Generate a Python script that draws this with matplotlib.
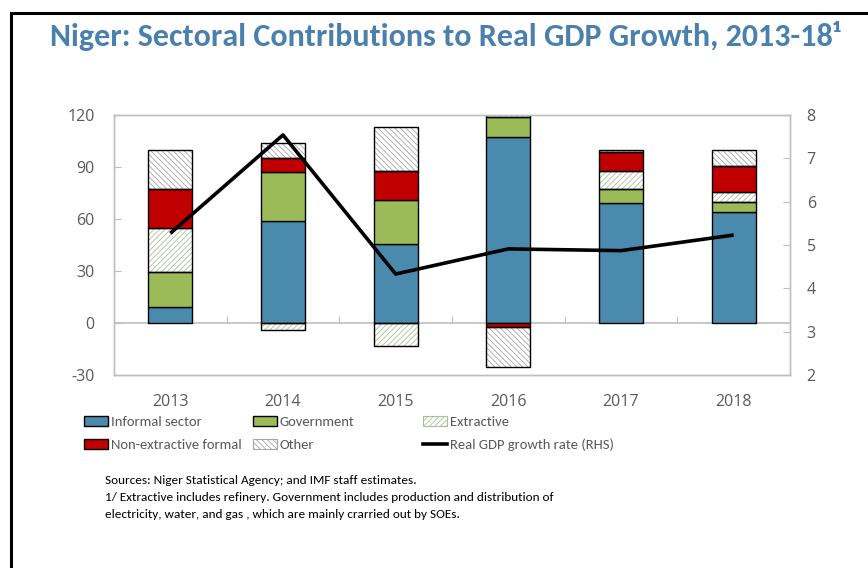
import matplotlib
matplotlib.use('Agg')
import matplotlib.pyplot as plt
import numpy as np
from matplotlib.patches import Patch, Rectangle
from matplotlib.lines import Line2D

# Contributions to growth (left axis) and real GDP growth rate (right axis)
years = ['2013', '2014', '2015', '2016', '2017', '2018']
informal = [9.2, 58.9, 45.5, 107.1, 69.1, 63.9]
government = [20.2, 28.1, 25.5, 11.9, 8.4, 6.1]
extractive = [25.3, -3.9, -13.5, 3.0, 10.4, 5.8]
non_extractive = [22.8, 8.4, 16.9, -2.5, 10.6, 15.0]
other = [22.3, 8.3, 25.4, -22.8, 1.3, 9.0]
gdp_growth = [5.27, 7.54, 4.33, 4.91, 4.87, 5.23]

CAL = ['Carlito', 'Liberation Sans']
TICKF = ['Open Sans', 'DejaVu Sans']

plt.rcParams['hatch.linewidth'] = 0.6
plt.rcParams['axes.unicode_minus'] = False

BLUE = '#4A8BAD'
GREEN = '#9BBB59'
RED = '#C00000'
GRID = '#BFBFBF'
TXT = '#595959'

fig = plt.figure(figsize=(8.68, 5.68), dpi=100)
ax = fig.add_axes([114 / 868, 1 - 375 / 568, 676 / 868, 260 / 568])
ax2 = ax.twinx()

x = np.arange(len(years))
width = 0.39

series = [
    ('Informal sector', informal, dict(facecolor=BLUE)),
    ('Government', government, dict(facecolor=GREEN)),
    ('Extractive', extractive, dict(facecolor='white', hatch='//////', hatch_col='#A8BF98')),
    ('Non-extractive formal', non_extractive, dict(facecolor=RED)),
    ('Other', other, dict(facecolor='white', hatch='\\\\\\\\\\\\', hatch_col='#A6A6A6')),
]

pos_base = np.zeros(len(years))
neg_base = np.zeros(len(years))
handles = {}
for label, vals, style in series:
    vals = np.array(vals, dtype=float)
    bottoms = np.where(vals >= 0, pos_base, neg_base)
    if 'hatch' in style:
        ax.bar(x, vals, width, bottom=bottoms, color='white',
               edgecolor=style['hatch_col'], hatch=style['hatch'], linewidth=0, zorder=2)
        ax.bar(x, vals, width, bottom=bottoms, facecolor='none',
               edgecolor='black', linewidth=1.0, zorder=3)
        handles[label] = Patch(facecolor='white', edgecolor=style['hatch_col'],
                               hatch=style['hatch'], linewidth=0.8)
    else:
        ax.bar(x, vals, width, bottom=bottoms, color=style['facecolor'],
               edgecolor='black', linewidth=1.0, zorder=3)
        handles[label] = Patch(facecolor=style['facecolor'], edgecolor='black', linewidth=1.0)
    pos_base = pos_base + np.where(vals >= 0, vals, 0)
    neg_base = neg_base + np.where(vals < 0, vals, 0)

ax2.plot(x, gdp_growth, color='black', lw=2.6, solid_capstyle='butt', zorder=5)
handles['Real GDP growth rate (RHS)'] = Line2D([], [], color='black', lw=2.6)

ax.set_xlim(-0.5, len(years) - 0.5)
ax.set_ylim(-30, 120)
ax.set_yticks([-30, 0, 30, 60, 90, 120])
ax2.set_ylim(2, 8)
ax2.set_yticks(range(2, 9))

for a in (ax, ax2):
    for s in a.spines.values():
        s.set_color(GRID)
        s.set_linewidth(1.0)
ax.axhline(0, color=GRID, lw=1.2, zorder=1)

ax.set_xticks(x)
ax.set_xticklabels(years)
ax.tick_params(axis='x', length=0, pad=14, labelsize=11.5, labelcolor=TXT)
ax.tick_params(axis='y', direction='in', length=5, color=GRID, pad=14,
               labelsize=11.5, labelcolor=TXT)
ax2.tick_params(axis='y', direction='in', length=5, color=GRID, pad=12,
                labelsize=11.5, labelcolor=TXT)
for lab in ax.get_xticklabels() + ax.get_yticklabels() + ax2.get_yticklabels():
    lab.set_family(TICKF)

# category separators sitting on the zero line
zero_axis = ax.secondary_xaxis(30 / 150)
zero_axis.set_xticks(np.arange(0.5, len(years) - 1, 1.0))
zero_axis.tick_params(direction='in', length=5, color=GRID, labelbottom=False, labeltop=False)
zero_axis.spines['bottom'].set_visible(False)
zero_axis.spines['top'].set_visible(False)

# legend in three fixed columns
columns = [
    ['Informal sector', 'Non-extractive formal'],
    ['Government', 'Other'],
    ['Extractive', 'Real GDP growth rate (RHS)'],
]
col_x = [84, 253, 423]
for cx, labs in zip(col_x, columns):
    leg = fig.legend([handles[l] for l in labs], labs, loc='upper left',
                     bbox_to_anchor=(cx / 868, 1 - 416 / 568), frameon=False,
                     handlelength=1.65, handleheight=0.7, handletextpad=0.2,
                     labelspacing=0.72, borderpad=0, borderaxespad=0,
                     prop={'family': CAL, 'size': 10.5})
    for t in leg.get_texts():
        t.set_color(TXT)

fig.text(0.513, 1 - 36 / 568, 'Niger: Sectoral Contributions to Real GDP Growth, 2013-18¹',
         ha='center', va='center', color='#4A80AE', fontsize=23, fontweight='bold',
         family=CAL)

notes = ['Sources: Niger Statistical Agency; and IMF staff estimates.',
         '1/ Extractive includes refinery. Government includes production and distribution of',
         'electricity, water, and gas , which are mainly crarried out by SOEs.']
for i, line in enumerate(notes):
    fig.text(105 / 868, 1 - (480 + 17.5 * i) / 568, line, ha='left', va='center',
             fontsize=9.5, family=CAL, color='black')

# frame around the whole exhibit
frame = Rectangle((11 / 868, -0.1), 1.2, 1 - 13 / 568 + 0.1, transform=fig.transFigure,
                  fill=False, edgecolor='black', linewidth=2.2, clip_on=False)
fig.patches.append(frame)

fig.savefig('out.png', dpi=100)
